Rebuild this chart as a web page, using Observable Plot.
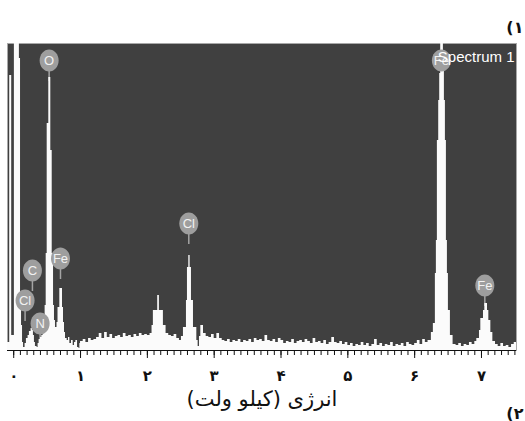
<!DOCTYPE html>
<html><head><meta charset="utf-8">
<script src="https://cdn.jsdelivr.net/npm/d3@7"></script>
<script src="https://cdn.jsdelivr.net/npm/@observablehq/plot@0.6"></script>
<style>
html,body{margin:0;padding:0;background:#fff;overflow:hidden}
svg{display:block}
</style>
</head><body><div id="chart"></div>
<script>
// EDS spectrum samples: [energy keV, counts (arb.)]
const spectrumSamples = [
[-0.093,8],[-0.06,275],[-0.03,15],[0.01,330],[0.085,292],[0.102,55],[0.117,25],[0.132,8],[0.147,3],[0.17,7],
[0.19,12],[0.215,15],[0.235,19],[0.26,22],[0.28,20],[0.295,15],[0.31,8],[0.325,4],[0.35,3],[0.365,7],
[0.38,11],[0.40,13],[0.42,15],[0.44,20],[0.455,28],[0.47,45],[0.486,97],[0.501,227],[0.525,273],[0.555,200],
[0.576,97],[0.596,45],[0.61,30],[0.625,23],[0.648,28],[0.663,43],[0.69,62],[0.73,43],[0.745,28],[0.76,18],
[0.775,12],[0.80,10],[0.82,13],[0.84,7],[0.865,10],[0.89,5],[0.91,8],[0.93,10],[0.955,3],[0.977,2],
[0.99,7],[1.00,9],[1.04,11],[1.08,8],[1.12,12],[1.16,10],[1.20,11],[1.24,13],[1.28,17],[1.32,12],
[1.36,18],[1.40,13],[1.44,16],[1.48,12],[1.52,14],[1.56,15],[1.60,13],[1.64,17],[1.68,14],[1.72,15],
[1.76,13],[1.80,16],[1.84,14],[1.88,17],[1.92,15],[1.96,16],[2.00,15],[2.04,17],[2.07,25],[2.09,40],
[2.155,55],[2.18,40],[2.24,25],[2.28,17],[2.32,15],[2.36,14],[2.40,16],[2.44,12],[2.48,10],[2.51,14],
[2.54,23],[2.585,50],[2.60,83],[2.62,95],[2.64,83],[2.66,50],[2.69,23],[2.74,10],[2.76,4],[2.78,14],
[2.80,25],[2.84,17],[2.88,14],[2.92,13],[2.96,16],[3.00,12],[3.04,17],[3.08,12],[3.12,10],[3.16,9],
[3.20,11],[3.24,8],[3.28,10],[3.32,9],[3.36,11],[3.40,8],[3.44,10],[3.48,9],[3.52,11],[3.56,8],
[3.60,12],[3.64,10],[3.68,11],[3.72,9],[3.76,15],[3.80,10],[3.84,9],[3.88,11],[3.92,8],[3.96,12],
[4.00,10],[4.04,7],[4.08,9],[4.12,8],[4.16,11],[4.20,7],[4.24,9],[4.28,10],[4.32,8],[4.36,11],
[4.40,9],[4.44,7],[4.48,12],[4.52,8],[4.56,9],[4.60,7],[4.64,10],[4.68,6],[4.72,8],[4.76,13],
[4.80,8],[4.84,7],[4.88,9],[4.92,6],[4.96,8],[5.00,5],[5.04,7],[5.08,4],[5.12,6],[5.16,5],
[5.20,8],[5.24,5],[5.28,7],[5.32,4],[5.36,6],[5.40,11],[5.44,5],[5.48,7],[5.52,4],[5.56,6],
[5.60,5],[5.64,8],[5.68,4],[5.72,6],[5.76,5],[5.80,7],[5.84,4],[5.88,8],[5.92,6],[5.96,5],
[6.00,7],[6.04,10],[6.08,6],[6.12,11],[6.16,8],[6.20,10],[6.25,18],[6.28,27],[6.31,77],[6.325,110],
[6.34,210],[6.36,250],[6.375,277],[6.39,330],[6.43,290],[6.445,250],[6.46,210],[6.475,110],[6.49,77],[6.505,40],
[6.535,15],[6.575,6],[6.62,5],[6.66,7],[6.70,4],[6.74,6],[6.78,5],[6.82,8],[6.86,6],[6.90,9],[6.93,12],[6.97,20],
[6.99,32],[7.03,40],[7.05,47],[7.09,40],[7.11,30],[7.14,18],[7.17,9],[7.21,6],[7.25,4],[7.29,7],
[7.33,4],[7.37,5],[7.41,3],[7.45,6],[7.49,8],[7.524,8]
];

// Element peak markers
const peakNames   = ["Cl", "C", "N", "O", "Fe", "Cl", "Fe", "Fe"];
const peakEnergy  = [0.17, 0.28, 0.395, 0.53, 0.70, 2.62, 6.40, 7.05];
const labelHeight = [50, 80, 27, 290, 92, 127, 290, 65];

// Axis
const majorTicks = [0, 1, 2, 3, 4, 5, 6, 7];
const tickLabels = ["۰", "۱", "۲", "۳", "۴", "۵", "۶", "۷"];
const minorTicks = d3.range(0, 76).map(i => i / 10);
const xAxisLabel = "انرژی (کیلو ولت)";
const spectrumName = "Spectrum 1";
const panelMarks = ["(۱", "(۲"];   // cut-off figure numbers at the right edge

const spectrum = spectrumSamples.map(([e, c]) => ({e, c}));
const peaks = peakNames.map((name, i) => ({name, e: peakEnergy[i], h: labelHeight[i]}));

const ellipse = {
  draw(ctx) {
    const rx = 9.5, ry = 11, k = 0.5523;
    ctx.moveTo(rx, 0);
    ctx.bezierCurveTo(rx, ry * k, rx * k, ry, 0, ry);
    ctx.bezierCurveTo(-rx * k, ry, -rx, ry * k, -rx, 0);
    ctx.bezierCurveTo(-rx, -ry * k, -rx * k, -ry, 0, -ry);
    ctx.bezierCurveTo(rx * k, -ry, rx, -ry * k, rx, 0);
    ctx.closePath();
  }
};

const narrow = "'Liberation Sans Narrow','Liberation Sans',Arial,sans-serif";
const arabic = "'DejaVu Sans',sans-serif";

// each panel mark: glyphs placed one after another, left to right
const markGlyphs = (s, anchor, dy) => Array.from(s).map((ch, i) =>
  Plot.text([ch], {frameAnchor: anchor, dx: -3 + i * 10, dy, fontSize: 16, fontWeight: "bold", fontFamily: arabic, fill: "#111"})
);

const chart = Plot.plot({
  width: 525,
  height: 421,
  marginLeft: 7,
  marginRight: 9,
  marginTop: 43,
  marginBottom: 71,
  style: {background: "#fff", overflow: "visible"},
  x: {domain: [-0.093, 7.524], axis: null, label: null},
  y: {domain: [0, 307], axis: null, label: null},
  marks: [
    Plot.frame({fill: "#404040", stroke: "#a8a8a8", strokeWidth: 1}),
    Plot.ruleX(peaks, {x: "e", y1: d => d.h - 10, y2: d => d.h - 21, stroke: "#a4a4a4", strokeWidth: 1.5}),
    Plot.areaY(spectrum, {x: "e", y: "c", curve: "step-after", fill: "#fbfbfb", clip: true}),
    Plot.dot(peaks, {x: "e", y: "h", symbol: ellipse, r: 10, fill: "#9e9e9e", stroke: "none"}),
    Plot.text(peaks, {x: "e", y: "h", text: "name", fill: "#f2f2f2", fontSize: 13, fontFamily: narrow}),
    Plot.text([spectrumName], {frameAnchor: "top-right", dx: -2, dy: 8, textAnchor: "end", fill: "#ffffff", fontSize: 15, fontFamily: narrow}),
    Plot.ruleY([0], {stroke: "#111", strokeWidth: 1.2}),
    Plot.axisX(minorTicks, {label: null, tickSize: 5, tickFormat: () => "", stroke: "#111"}),
    Plot.axisX(majorTicks, {label: null, tickSize: 8, tickPadding: 12, tickFormat: d => tickLabels[d], fontSize: 15, fontWeight: "bold", fontFamily: arabic, fill: "#111", stroke: "#111"}),
    Plot.text([xAxisLabel + "\u200F"], {frameAnchor: "bottom", dy: 55, fontSize: 21, fontFamily: arabic, fill: "#111"}),
    ...markGlyphs(panelMarks[0], "top-right", -22),
    ...markGlyphs(panelMarks[1], "bottom-right", 68)
  ]
});
document.getElementById("chart").appendChild(chart);
</script>
</body></html>
